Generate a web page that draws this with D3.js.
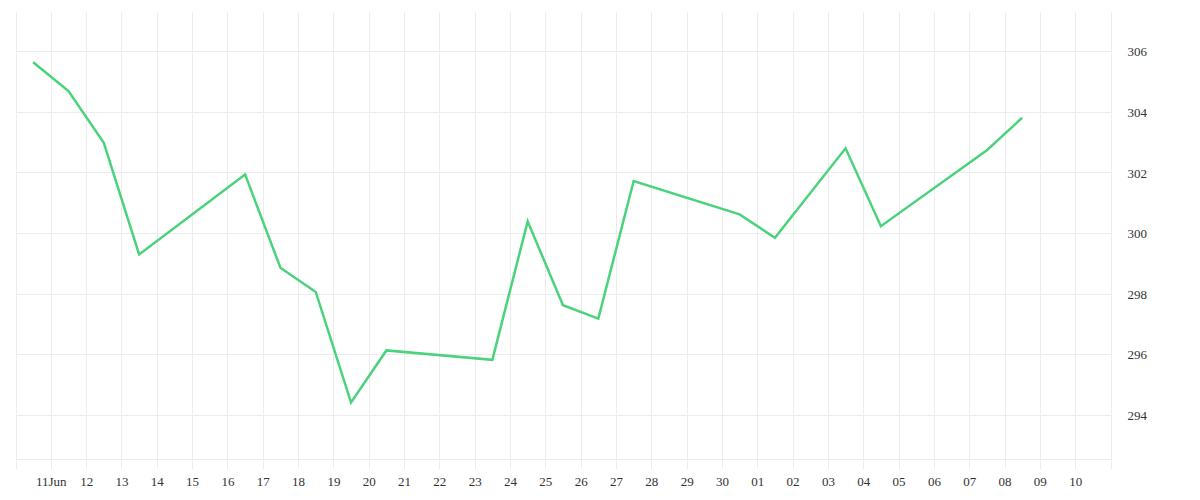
<!doctype html>
<html>
<head>
    <meta charset="utf-8">
    <title>Price</title>
    <style>
        body {
            margin: 0;
            background: #ffffff;
        }

        .grid line {
            stroke: #ececec;
            stroke-width: 1;
            shape-rendering: crispEdges;
        }

        .axis text {
            font-family: "Liberation Serif", serif;
            font-size: 13px;
            fill: #333333;
        }

        .axis path,
        .axis line {
            display: none;
        }

        path.price {
            fill: none;
            stroke: #4bd27c;
            stroke-width: 2.5;
            stroke-linejoin: miter;
        }
    </style>
</head>
<body>
    <div id="chart"></div>

    <script src="https://cdn.jsdelivr.net/npm/d3@7"></script>
    <script>
        // trading days (one point per day, plotted at midday)
        var dates = [
            '2024-06-10', '2024-06-11', '2024-06-12', '2024-06-13',
            '2024-06-16', '2024-06-17', '2024-06-18', '2024-06-19', '2024-06-20',
            '2024-06-23', '2024-06-24', '2024-06-25', '2024-06-26', '2024-06-27',
            '2024-06-30', '2024-07-01', '2024-07-03', '2024-07-04',
            '2024-07-07', '2024-07-08'
        ];

        var prices = [
            305.65, 304.70, 302.99, 299.31,
            301.95, 298.87, 298.07, 294.42, 296.14,
            295.83, 300.40, 297.63, 297.19, 301.73,
            300.63, 299.86, 302.81, 300.24,
            302.75, 303.82
        ];

        var y_ticks = [294, 296, 298, 300, 302, 304, 306];

        var x_labels = [
            '11Jun', '12', '13', '14', '15', '16', '17', '18', '19', '20',
            '21', '22', '23', '24', '25', '26', '27', '28', '29', '30',
            '01', '02', '03', '04', '05', '06', '07', '08', '09', '10'
        ];

        var svg_width = 1200;
        var svg_height = 500;

        var plot_left = 15.5;
        var plot_right = 1110.5;
        var plot_top = 12;
        var plot_bottom = 459.5;

        var parse = d3.timeParse('%Y-%m-%d');

        var data = dates.map(function(d, i) {
            return { date: d3.timeHour.offset(parse(d), 12), value: prices[i] };
        });

        var x = d3.scaleTime()
            .domain([parse('2024-06-10'), parse('2024-07-11')])
            .range([plot_left, plot_right]);

        var y = d3.scaleLinear()
            .domain([292.54, 307.31])
            .range([plot_bottom, plot_top]);

        var svg = d3.select('#chart').append('svg')
            .attr('width', svg_width)
            .attr('height', svg_height);

        // vertical grid, one line per day, running a little past the bottom edge
        var days = d3.timeDay.range(parse('2024-06-10'), d3.timeDay.offset(parse('2024-07-11'), 1));

        svg.append('g')
            .attr('class', 'grid')
            .selectAll('line')
            .data(days)
          .enter().append('line')
            .attr('x1', function(d) { return Math.round(x(d)) + 0.5; })
            .attr('x2', function(d) { return Math.round(x(d)) + 0.5; })
            .attr('y1', plot_top)
            .attr('y2', plot_bottom + 9);

        // horizontal grid plus the bottom edge
        svg.append('g')
            .attr('class', 'grid')
            .selectAll('line')
            .data(y_ticks)
          .enter().append('line')
            .attr('x1', plot_left)
            .attr('x2', plot_right)
            .attr('y1', function(d) { return y(d); })
            .attr('y2', function(d) { return y(d); });

        svg.select('g.grid').append('line')
            .attr('x1', plot_left)
            .attr('x2', plot_right)
            .attr('y1', plot_bottom)
            .attr('y2', plot_bottom);

        // axes (labels only)
        var label_days = d3.timeDay.range(parse('2024-06-11'), parse('2024-07-11'));

        svg.append('g')
            .attr('class', 'axis x')
            .attr('transform', 'translate(0,' + (plot_bottom + 14) + ')')
            .call(d3.axisBottom(x)
                .tickValues(label_days)
                .tickSize(0)
                .tickFormat(function(d, i) { return x_labels[i]; }));

        svg.append('g')
            .attr('class', 'axis y')
            .attr('transform', 'translate(' + (plot_right + 12) + ',0)')
            .call(d3.axisRight(y)
                .tickValues(y_ticks)
                .tickSize(0)
                .tickPadding(5));

        var line = d3.line()
            .x(function(d) { return x(d.date); })
            .y(function(d) { return y(d.value); });

        svg.append('path')
            .datum(data)
            .attr('class', 'price')
            .attr('d', line);
    </script>
</body>
</html>
